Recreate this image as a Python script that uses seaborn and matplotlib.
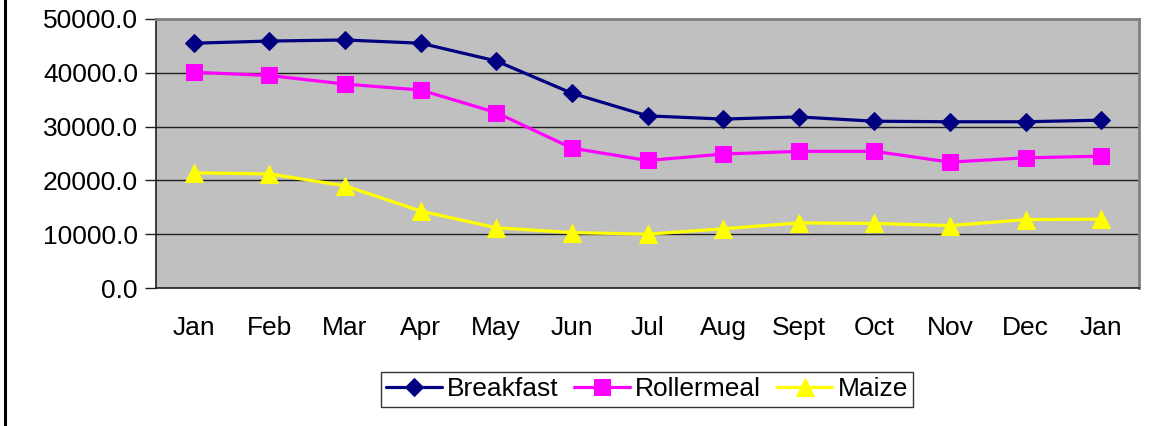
"""Monthly prices: Breakfast, Rollermeal and Maize (Excel-style line chart)."""

import matplotlib

matplotlib.use("Agg")

import matplotlib.pyplot as plt
import matplotlib.ticker as mticker
import numpy as np
import pandas as pd
import seaborn as sns
from matplotlib.lines import Line2D


MONTHS = ["Jan", "Feb", "Mar", "Apr", "May", "Jun", "Jul", "Aug", "Sept", "Oct", "Nov", "Dec", "Jan"]
BREAKFAST = [45500, 45900, 46100, 45500, 42200, 36200, 32000, 31400, 31800, 31000, 30900, 30900, 31200]
ROLLERMEAL = [40100, 39500, 37900, 36800, 32600, 26000, 23700, 24900, 25400, 25400, 23400, 24200, 24500]
MAIZE = [21400, 21200, 19000, 14300, 11200, 10300, 10000, 11000, 12100, 12000, 11600, 12700, 12800]

SERIES = {
    "Breakfast": (BREAKFAST, "#000080", "D", 9),
    "Rollermeal": (ROLLERMEAL, "#FF00FF", "s", 11.5),
    "Maize": (MAIZE, "#FFFF00", "^", 12.5),
}


def build_frame() -> pd.DataFrame:
    rows = []
    for name, (values, *_rest) in SERIES.items():
        for i, v in enumerate(values):
            rows.append({"pos": i, "value": v, "series": name})
    return pd.DataFrame(rows)


def main() -> None:
    sns.set_style("white")
    plt.rcParams["font.family"] = ["Liberation Sans", "DejaVu Sans"]
    plt.rcParams["text.color"] = "black"
    plt.rcParams["xtick.color"] = "black"
    plt.rcParams["ytick.color"] = "black"

    df = build_frame()
    fig = plt.figure(figsize=(11.66, 4.26), dpi=100)
    ax = fig.add_axes([156 / 1166, 138 / 426, 983 / 1166, 269 / 426])
    ax.set_facecolor("#C0C0C0")

    for name, (_vals, color, marker, ms) in SERIES.items():
        sub = df[df["series"] == name]
        sns.lineplot(
            data=sub, x="pos", y="value", ax=ax, color=color, linewidth=2.3,
            marker=marker, markersize=ms, markeredgecolor=color, label=name, zorder=3,
        )

    ax.set_xlim(-0.5, len(MONTHS) - 0.5)
    ax.set_ylim(0, 50000)
    ax.set_xlabel("")
    ax.set_ylabel("")

    ax.yaxis.set_major_locator(mticker.MultipleLocator(10000))
    ax.yaxis.set_major_formatter(mticker.FuncFormatter(lambda v, _: f"{v:.1f}"))
    ax.grid(axis="y", color="#202020", linewidth=1.0)
    ax.set_axisbelow(True)

    ax.set_xticks(np.arange(len(MONTHS)))
    ax.set_xticklabels(MONTHS)
    ax.set_xticks(np.arange(len(MONTHS) + 1) - 0.5, minor=True)
    ax.tick_params(axis="x", which="major", length=0, pad=20, labelsize=19, labelcolor="black")
    ax.tick_params(axis="x", which="minor", length=7, width=1, color="#202020", direction="out")
    ax.tick_params(axis="y", which="major", length=8, width=1, color="#202020", direction="out",
                   pad=5, labelsize=19, labelcolor="black", left=True)

    for side in ["left", "bottom"]:
        ax.spines[side].set_color("#202020")
        ax.spines[side].set_linewidth(1.2)
    for side in ["top", "right"]:
        ax.spines[side].set_color("#808080")
        ax.spines[side].set_linewidth(2)
        ax.spines[side].set_visible(True)

    leg = ax.legend(
        loc="center", bbox_to_anchor=(647 / 1166, 1 - 389.5 / 426), bbox_transform=fig.transFigure,
        ncol=3, fontsize=19, frameon=True, fancybox=False, handlelength=2.1,
        handletextpad=0.2, columnspacing=0.6, borderpad=0.2, labelcolor="black",
    )
    leg.get_frame().set_edgecolor("#000000")
    leg.get_frame().set_linewidth(1.0)

    fig.add_artist(Line2D([5 / 1166, 5 / 1166], [0, 1], transform=fig.transFigure,
                          color="black", linewidth=2.2))

    fig.savefig("out.png", dpi=100)
    plt.close(fig)


if __name__ == "__main__":
    main()
